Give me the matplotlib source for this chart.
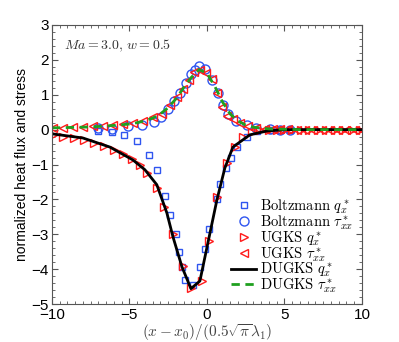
import matplotlib
matplotlib.use('Agg')
import matplotlib.pyplot as plt
from matplotlib.ticker import MultipleLocator

plt.rcParams['font.family'] = ['Liberation Sans', 'DejaVu Sans']
plt.rcParams['mathtext.fontset'] = 'cm'

# Boltzmann reference, heat flux
bz_q_x = [-7.03, -6.13, -5.35, -4.52, -3.74, -3.23, -2.71, -2.39, -2.0, -1.81, -1.61, -1.42,
          -0.9, -0.45, -0.13, 0.13, 0.65, 0.84, 1.25, 1.55, 1.94, 2.58, 3.23, 4.06, 4.71, 5.35]
bz_q = [-0.03, -0.06, -0.14, -0.34, -0.74, -1.17, -1.89, -2.46, -3.0, -3.51, -3.94, -4.31,
        -4.46, -3.94, -3.43, -2.86, -2.0, -1.57, -1.1, -0.8, -0.49, -0.2, -0.03, 0.0, 0.0, 0.0]

# Boltzmann reference, stress
bz_t_x = [-7.05, -6.1, -5.1, -4.2, -3.42, -2.97, -2.52, -2.13, -1.74, -1.35, -1.03, -0.77,
          -0.52, -0.13, 0.32, 0.71, 1.03, 1.35, 1.87, 2.58, 3.16, 4.06, 4.71, 5.35]
bz_t = [0.05, 0.03, 0.1, 0.13, 0.23, 0.37, 0.6, 0.83, 1.06, 1.34, 1.6, 1.71,
        1.83, 1.74, 1.43, 1.06, 0.71, 0.46, 0.26, 0.14, 0.06, 0.03, 0.0, 0.0]

# UGKS heat flux
ug_q_x = [-9.9, -9.25, -8.6, -7.95, -7.3, -6.65, -6.0, -5.4, -4.85, -4.3, -3.85, -3.25,
          -2.75, -2.2, -1.55, -1.05, -0.3, 0.15, 0.65, 1.3, 1.8, 2.3, 2.9, 3.45, 4.0, 4.5,
          5.0, 5.5, 6.05, 6.6, 7.15, 7.7, 8.25, 8.8, 9.35, 9.9]
ug_q = [-0.16, -0.2, -0.25, -0.31, -0.38, -0.47, -0.57, -0.7, -0.85, -1.0, -1.23, -1.66,
        -2.23, -3.0, -3.9, -4.55, -4.34, -3.2, -1.93, -0.95, -0.5, -0.2, -0.07, -0.02, -0.01, 0.0,
        0.0, 0.0, 0.0, 0.0, 0.0, 0.0, 0.0, 0.0, 0.0, 0.0]

# UGKS stress
ug_t_x = [-9.9, -9.3, -8.65, -8.0, -7.35, -6.7, -6.05, -5.4, -4.75, -4.1, -3.5, -2.9,
          -2.4, -1.95, -1.55, -1.15, -0.8, -0.45, -0.05, 0.3, 0.65, 0.95, 1.3, 1.7, 2.15,
          2.65, 3.2, 3.75, 4.25, 4.7, 5.25, 5.8, 6.3, 6.85, 7.4, 7.95, 8.45, 9.0, 9.55, 10.0]
ug_t = [0.06, 0.06, 0.07, 0.08, 0.1, 0.11, 0.13, 0.16, 0.19, 0.25, 0.36, 0.45,
        0.7, 0.94, 1.17, 1.43, 1.66, 1.72, 1.63, 1.45, 1.06, 0.65, 0.38, 0.3, 0.2,
        0.1, 0.05, 0.03, 0.02, 0.01, 0.01, 0.0, 0.0, 0.0, 0.0, 0.0, 0.0, 0.0, 0.0, 0.0]

# DUGKS heat flux (solid line)
dg_q_x = [-10, -8.0, -6.26, -4.77, -4.0, -3.23, -2.58, -2.19, -1.61, -1.03, -0.45,
          0.65, 1.16, 1.68, 2.77, 3.87, 5.0, 10]
dg_q = [-0.12, -0.24, -0.5, -0.87, -1.15, -1.58, -2.39, -3.07, -3.93, -4.56, -4.34,
        -2.01, -1.1, -0.5, -0.15, -0.04, 0.0, 0.0]

# DUGKS stress (dashed line)
dg_t_x = [-10, -9, -8, -7, -6, -5, -4.5, -4, -3.5, -3, -2.5, -2, -1.5, -1, -0.5,
          0, 0.5, 1, 1.5, 2, 2.5, 3, 4, 5, 6, 10]
dg_t = [0.05, 0.06, 0.07, 0.09, 0.12, 0.16, 0.2, 0.25, 0.33, 0.45, 0.63, 0.88, 1.2, 1.5, 1.72,
        1.62, 1.25, 0.8, 0.45, 0.25, 0.13, 0.07, 0.02, 0.01, 0.0, 0.0]

blue = '#2f55f0'
red = '#ff1a1a'
green = '#1fa01f'

fig = plt.figure(figsize=(3.99, 3.42), dpi=100)
ax = fig.add_axes([0.130, 0.111, 0.777, 0.816])

ax.plot(bz_q_x, bz_q, 's', ms=5, mfc='none', mec=blue, mew=1.0,
        label=r'$\mathrm{Boltzmann}\ q_x^*$')
ax.plot(bz_t_x, bz_t, 'o', ms=6.5, mfc='none', mec=blue, mew=1.0,
        label=r'$\mathrm{Boltzmann}\ \tau_{xx}^*$')
ax.plot(ug_q_x, ug_q, '>', ms=6, mfc='none', mec=red, mew=1.0,
        label=r'$\mathrm{UGKS}\ q_x^*$')
ax.plot(ug_t_x, ug_t, '<', ms=6, mfc='none', mec=red, mew=1.0,
        label=r'$\mathrm{UGKS}\ \tau_{xx}^*$')
ax.plot(dg_q_x, dg_q, '-', color='black', lw=2, label=r'$\mathrm{DUGKS}\ q_x^*$')
ax.plot(dg_t_x, dg_t, '--', color=green, lw=2, dashes=(3, 2),
        label=r'$\mathrm{DUGKS}\ \tau_{xx}^*$')

ax.set_xlim(-10, 10)
ax.set_ylim(-5, 3)
ax.xaxis.set_major_locator(MultipleLocator(5))
ax.xaxis.set_minor_locator(MultipleLocator(0.5))
ax.yaxis.set_major_locator(MultipleLocator(1))
ax.yaxis.set_minor_locator(MultipleLocator(0.2))
ax.tick_params(which='both', direction='in', top=True, right=True, colors='#555555',
               labelcolor='black', labelsize=11, pad=2)
ax.tick_params(axis='x', pad=3)
ax.tick_params(which='major', length=4)
ax.tick_params(which='minor', length=2)
for s in ax.spines.values():
    s.set_color('#555555')

ax.set_ylabel('normalized heat flux and stress', fontsize=10, labelpad=2)
ax.set_xlabel(r'$(x-x_0)/(0.5\sqrt{\pi}\lambda_1)$', fontsize=11, color='#444444',
              labelpad=0)
ax.text(0.04, 0.955, r'$Ma=3.0,\,w=0.5$', transform=ax.transAxes, fontsize=10,
        color='#333333', va='top', ha='left')

ax.legend(loc='lower right', frameon=False, fontsize=10.5, handlelength=1.7,
          handletextpad=0.25, labelspacing=-0.2, borderaxespad=0.2)

fig.savefig('out.png', dpi=100)
